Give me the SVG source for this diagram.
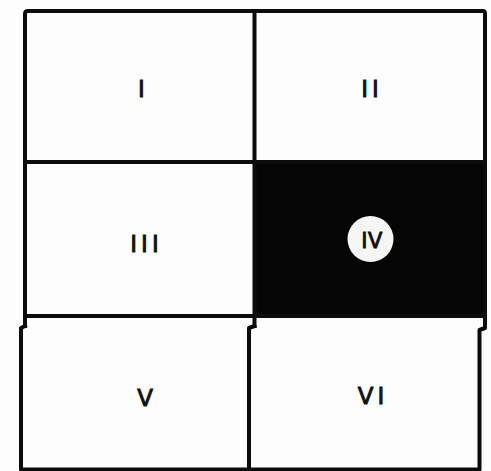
<svg xmlns="http://www.w3.org/2000/svg" width="491" height="471" viewBox="0 0 491 471">
<style>
.ln{fill:none;stroke:#0c0c0c;stroke-width:4;stroke-linejoin:round;stroke-linecap:square}
.lbl{font-family:"DejaVu Sans","Liberation Sans",sans-serif;font-size:23px;fill:#111;stroke:#111;stroke-width:0.9;text-anchor:middle;letter-spacing:4px}
</style>
<rect width="491" height="471" fill="#fdfdfd"/>
<g id="cell-I"><text class="lbl" x="143.5" y="97">I</text></g>
<g id="cell-II"><text class="lbl" x="372" y="97">II</text></g>
<g id="cell-III"><text class="lbl" x="146.5" y="252">III</text></g>
<g id="cell-IV">
<rect x="255" y="162" width="231" height="154" fill="#050505"/>
<circle cx="370.5" cy="239" r="23" fill="#f6f6f4"/>
<text class="lbl" x="372" y="247.5" style="font-size:21px;letter-spacing:0.5px">IV</text>
</g>
<g id="cell-V"><text class="lbl" x="145" y="406" style="letter-spacing:0">V</text></g>
<g id="cell-VI"><text class="lbl" x="373" y="404">VI</text></g>
<g id="lines">
<path class="ln" d="M25,326 V14 Q25,11 28,11 H483 Q485,11 485,14 V316 H25"/>
<path class="ln" d="M25,162 H485"/>
<path class="ln" d="M254.5,11 V326"/>
<path class="ln" d="M25,326 L21,328 V469.5 H479.5 V330 L485,328 V316"/>
<path class="ln" d="M254.5,326 L249,328 V469.5"/>
</g>
</svg>
